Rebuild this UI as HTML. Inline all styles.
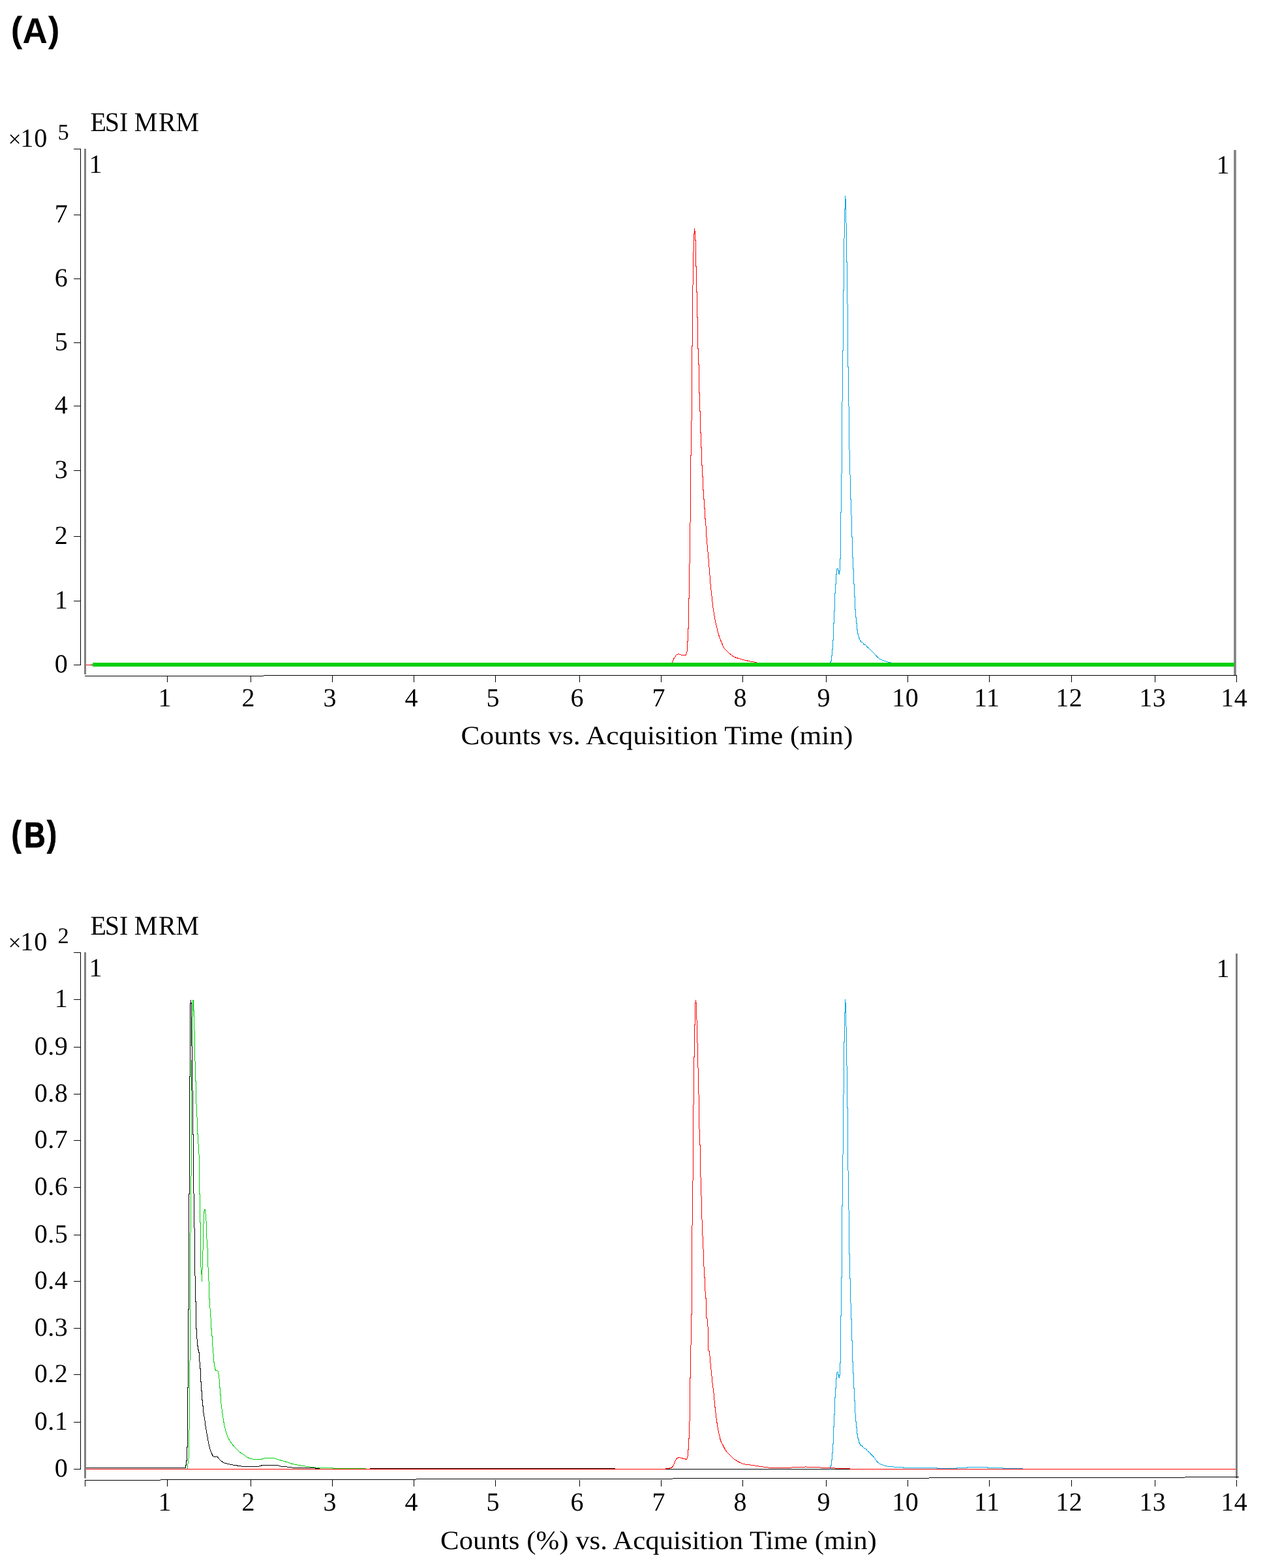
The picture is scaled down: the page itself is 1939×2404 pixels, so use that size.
<!DOCTYPE html>
<html lang="en">
<head>
<meta charset="utf-8">
<title>ESI MRM chromatograms</title>
<style>
html,body{margin:0;padding:0;background:#fff;}
body{width:1939px;height:2404px;overflow:hidden;}
svg{display:block;}
text{fill:#000;text-rendering:geometricPrecision;}
</style>
</head>
<body>
<svg xmlns="http://www.w3.org/2000/svg" width="1939" height="2404" viewBox="0 0 1939 2404">
<rect x="0" y="0" width="1939" height="2404" fill="#ffffff"/>
<g>
<rect x="129" y="228" width="3" height="806" fill="#808080"/>
<rect x="1891.2" y="230" width="3.6" height="805" fill="#808080"/>
<rect x="129" y="1460" width="3" height="806.5" fill="#808080"/>
<rect x="1894" y="1462" width="3" height="804.7" fill="#808080"/>
</g>
<g shape-rendering="crispEdges">
<rect x="123" y="228" width="1" height="792" fill="#000"/>
<rect x="113" y="228" width="11" height="1" fill="#000"/>
<rect x="113" y="1019" width="11" height="1" fill="#000"/>
<rect x="113" y="921" width="11" height="1" fill="#000"/>
<rect x="113" y="822" width="11" height="1" fill="#000"/>
<rect x="113" y="721" width="11" height="1" fill="#000"/>
<rect x="113" y="622" width="11" height="1" fill="#000"/>
<rect x="113" y="525" width="11" height="1" fill="#000"/>
<rect x="113" y="427" width="11" height="1" fill="#000"/>
<rect x="113" y="329" width="11" height="1" fill="#000"/>
<rect x="130" y="1036" width="274" height="1" fill="#000"/>
<rect x="404" y="1035" width="1492" height="1" fill="#000"/>
<rect x="256" y="1036" width="1" height="10" fill="#000"/>
<rect x="384" y="1036" width="1" height="10" fill="#000"/>
<rect x="509" y="1036" width="1" height="10" fill="#000"/>
<rect x="634" y="1036" width="1" height="10" fill="#000"/>
<rect x="759" y="1036" width="1" height="10" fill="#000"/>
<rect x="888" y="1036" width="1" height="10" fill="#000"/>
<rect x="1013" y="1036" width="1" height="10" fill="#000"/>
<rect x="1138" y="1036" width="1" height="10" fill="#000"/>
<rect x="1266" y="1036" width="1" height="10" fill="#000"/>
<rect x="1391" y="1036" width="1" height="10" fill="#000"/>
<rect x="1516" y="1036" width="1" height="10" fill="#000"/>
<rect x="1642" y="1036" width="1" height="10" fill="#000"/>
<rect x="1770" y="1036" width="1" height="10" fill="#000"/>
<rect x="1895" y="1036" width="1" height="10" fill="#000"/>
<rect x="132" y="1019" width="7" height="1" fill="#ff0000"/>
<rect x="139" y="1019" width="3" height="1" fill="#000"/>
<polyline points="1029,1019.5 1030.44,1015.85 1032.53,1010.27 1037.17,1003.53 1040.08,1002.49 1044.73,1004.46 1051.35,1004.46 1053.21,998.65 1053.67,998.65 1053.67,983.55 1054.6,983.55 1054.6,963.8 1055.53,963.8 1055.53,917.91 1056.92,917.91 1056.92,863.89 1057.74,863.89 1057.74,801.16 1058.43,800.47 1058.43,698.82 1059.48,698.24 1059.48,645.39 1060.41,644.8 1060.41,560 1060.41,530.85 1061.34,530.27 1061.34,437.33 1062.38,436.75 1062.38,386.22 1063.31,385.64 1063.31,358.92 1064.47,358.92 1064.47,349.97 1064.47,354.27 1065.5,354.27 1065.5,368.79 1066.5,368.79 1066.5,408.87 1067.5,408.87 1067.5,447.79 1068.51,447.79 1068.51,486.12 1069.51,486.12 1069.51,534.92 1070.5,534.92 1070.5,558.15 1071.5,558.15 1071.5,560 1071.5,602.4 1072.5,602.4 1072.5,630.86 1073.5,630.86 1073.5,663.39 1074.5,663.39 1074.5,686.63 1075.5,686.63 1075.5,713.93 1076.5,713.93 1076.5,730.77 1077.5,730.77 1077.5,751.68 1078.5,751.68 1078.5,765.62 1079.5,765.62 1079.5,779.56 1080.49,779.56 1080.49,795.83 1081.51,795.83 1082.71,820.91 1085.97,856.92 1089.45,899.91 1092.94,931.27 1096.42,952.18 1099.91,967.29 1102.81,977.16 1109.2,992.84 1117.33,1001.56 1125.46,1007.37 1137.08,1011.08 1148.7,1013.75 1158.92,1015.5 1162,1019.5" fill="none" stroke="#ff0000" stroke-width="1" stroke-linejoin="bevel"/>
<polyline points="1272.5,1019.5 1272.5,1015.7 1273.5,1015.7 1273.5,1013.6 1274.5,1013.6 1274.5,1005.9 1275.5,1005.9 1275.5,995 1276.5,995 1276.5,981 1277.5,981 1277.5,955.1 1278.5,955.1 1278.5,936.1 1279.5,936.1 1279.5,909.8 1280.5,909.8 1280.5,895.8 1281.5,895.8 1281.5,880.9 1282.5,880.9 1282.5,872.2 1283.5,871.3 1284.5,871.3 1284.5,874.7 1285.5,874.7 1285.5,879.3 1286.5,879.3 1286.5,880.9 1286.5,875.9 1287.5,875.9 1287.5,856.7 1288.5,856.7 1288.5,785 1289.5,785 1289.45,726.2 1290.5,725.62 1290.5,616.19 1291.54,615.49 1291.54,538.01 1292.59,537.43 1292.59,520 1292.36,529.77 1292.36,446.12 1293.29,445.54 1293.29,365.39 1294.33,364.8 1294.33,320.08 1295.49,320.08 1295.49,299.98 1295.49,304.98 1296.42,304.98 1296.65,341.57 1297.58,342.15 1297.58,401.4 1298.51,401.98 1298.51,465.64 1299.56,466.22 1299.56,529.77 1299.56,562.4 1300.49,562.98 1300.49,622.46 1301.42,623.16 1301.42,689.61 1302.35,690.31 1302.35,727.6 1303.39,728.29 1303.39,765.12 1304.44,766.05 1304.5,766.1 1304.5,790 1305.5,790 1305.5,823.2 1306.5,823.2 1306.5,854.8 1307.5,854.8 1307.5,872.8 1308.5,872.8 1308.5,895.8 1309.5,895.8 1309.5,914.8 1310.5,914.8 1310.5,934.6 1311.5,934.6 1311.5,946.7 1312.5,946.7 1312.5,955.7 1313.5,955.7 1313.5,965.8 1314.5,965.8 1314.5,971.8 1315.5,971.8 1315.5,975 1316.5,975 1316.5,978.7 1317.5,978.7 1317.5,981 1318.5,981 1318.5,982.7 1319.5,982.7 1319.5,984 1321.4,984.4 1324.7,988.3 1326.6,988.3 1329.8,992.7 1332,993.8 1339.4,1001.6 1346.4,1008.8 1351,1011.7 1355.7,1013.2 1360.3,1014.9 1365.9,1015.5 1368,1019.5" fill="none" stroke="#05a3df" stroke-width="1" stroke-linejoin="bevel"/>
<rect x="142" y="1016" width="1750" height="6" fill="#00cf0a"/>
<rect x="123" y="1460" width="1" height="793" fill="#000"/>
<rect x="113" y="1460" width="11" height="1" fill="#000"/>
<rect x="113" y="2252" width="11" height="1" fill="#000"/>
<rect x="113" y="2180" width="11" height="1" fill="#000"/>
<rect x="113" y="2107" width="11" height="1" fill="#000"/>
<rect x="113" y="2036" width="11" height="1" fill="#000"/>
<rect x="113" y="1964" width="11" height="1" fill="#000"/>
<rect x="113" y="1893" width="11" height="1" fill="#000"/>
<rect x="113" y="1820" width="11" height="1" fill="#000"/>
<rect x="113" y="1748" width="11" height="1" fill="#000"/>
<rect x="113" y="1677" width="11" height="1" fill="#000"/>
<rect x="113" y="1605" width="11" height="1" fill="#000"/>
<rect x="113" y="1532" width="11" height="1" fill="#000"/>
<rect x="130" y="2269" width="116" height="1" fill="#000"/>
<rect x="246" y="2268" width="392" height="1" fill="#000"/>
<rect x="638" y="2267" width="393" height="1" fill="#000"/>
<rect x="1031" y="2266" width="393" height="1" fill="#000"/>
<rect x="1424" y="2265" width="392" height="1" fill="#000"/>
<rect x="1816" y="2264" width="83" height="1" fill="#000"/>
<rect x="130" y="2269" width="1" height="10" fill="#000"/>
<rect x="256" y="2269" width="1" height="10" fill="#000"/>
<rect x="384" y="2269" width="1" height="10" fill="#000"/>
<rect x="509" y="2269" width="1" height="10" fill="#000"/>
<rect x="634" y="2269" width="1" height="10" fill="#000"/>
<rect x="759" y="2269" width="1" height="10" fill="#000"/>
<rect x="888" y="2269" width="1" height="10" fill="#000"/>
<rect x="1013" y="2269" width="1" height="10" fill="#000"/>
<rect x="1138" y="2269" width="1" height="10" fill="#000"/>
<rect x="1266" y="2269" width="1" height="10" fill="#000"/>
<rect x="1391" y="2269" width="1" height="10" fill="#000"/>
<rect x="1516" y="2269" width="1" height="10" fill="#000"/>
<rect x="1642" y="2269" width="1" height="10" fill="#000"/>
<rect x="1770" y="2269" width="1" height="10" fill="#000"/>
<rect x="1895" y="2269" width="1" height="10" fill="#000"/>
<polyline points="287.3,2252 287.3,2251 288.1,2243.3 288.56,2239.77 288.56,2236.28 289.61,2235.12 289.61,2192.72 290.53,2191.56 290.53,2086.42 291.58,2085.26 291.58,1990 291.58,1890.33 292.51,1889.41 292.51,1803.21 293.44,1802.28 293.44,1750 293.21,1759.77 293.21,1626.17 294.25,1625.59 294.25,1559.37 295.18,1558.79 295.18,1534.4 295.99,1533 296.58,1533.23 296.58,1549.5 297.5,1550.08 297.5,1578.54 298.43,1579.12 298.43,1626.75 299.48,1627.33 299.48,1656.96 300.53,1657.54 300.53,1692.39 301.57,1693.32 301.57,1712.72 302.73,1713.3 302.73,1738.28 303.78,1738.86 303.78,1753.96 304.71,1754.54 304.71,1759.77 304.71,1754.65 304.71,1769.75 305.64,1770.68 305.64,1830.16 306.68,1831.09 306.68,1874.3 307.61,1875.23 307.61,1942.84 308.54,1943.77 309.47,1964.92 309.47,1947.49 310.52,1946.33 310.52,1917.29 311.45,1916.36 311.45,1876.63 312.49,1875.7 312.49,1860.36 313.42,1855.13 314.47,1853.97 314.47,1860.36 315.51,1861.29 315.51,1871.4 316.67,1872.33 316.67,1899.86 317.6,1900.79 317.6,1912.64 318.65,1913.57 318.65,1942.84 319.69,1943.77 319.69,1963.75 320.74,1964.68 320.74,1991.05 321.78,1991.98 321.78,1999.77 321.5,1992 321.5,2006 322.5,2006 322.5,2020 323.5,2020 323.5,2037.9 324.5,2037.9 324.5,2048.1 325.5,2048.1 325.5,2065 326.5,2065 326.5,2075 327.5,2075 327.5,2088.9 328.5,2088.9 328.5,2095 329.5,2095 329.5,2099.5 330.5,2099.5 330.5,2101.6 333.5,2101.6 334.5,2102.5 334.5,2107 335.5,2107 335.5,2114 336.5,2114 336.5,2127.9 337.5,2127.9 337.5,2138.2 338.5,2138.2 338.5,2152 339.5,2152 339.5,2157 340.51,2163.82 341.54,2170.74 342.58,2177.65 343.62,2184.56 345.34,2191.47 347.42,2198.39 349.49,2203.92 352.26,2208.75 355.02,2212.9 357.79,2216.36 359.86,2219.12 363.32,2222.58 366.77,2225.69 370.23,2228.11 373.68,2230.18 377.14,2232.95 380.6,2235.02 384.05,2236.4 387.51,2237.23 390,2237.65 401.1,2237.15 407.15,2235.42 419.25,2235.42 427.02,2238.02 439.12,2241.47 447.76,2244.41 459.86,2246.66 470.22,2248.38 480.59,2249.77 485.78,2250.63 509.97,2250.63 510.83,2251.49 560.08,2251.49 560.1,2252.5" fill="none" stroke="#00cf0a" stroke-width="1" stroke-linejoin="bevel"/>
<polyline points="132,2250.5 284.2,2250.5 284.6,2246.8 285.5,2246.8 285.5,2240 286.24,2239.77 286.24,2219.44 287.28,2218.28 287.28,2128.24 288.33,2127.08 288.33,2008.36 289.26,2007.43 289.26,1990 289.26,1831.09 290.3,1830.16 290.3,1750 290.3,1651.15 291.35,1650.57 291.35,1538.46 292.28,1538.46 292.28,1533 292.28,1537.3 293.21,1537.3 293.21,1603.52 294.25,1604.1 294.25,1671.48 295.3,1672.06 295.3,1738.86 296.46,1739.44 296.46,1759.77 296.46,1829.58 297.5,1830.16 297.5,1882.43 298.43,1883.36 298.43,1955.62 299.48,1956.55 299.48,1995.12 300.5,1996 300.5,2037.9 301.5,2037.9 301.5,2053 302.5,2053 302.5,2063.8 303.5,2063.8 303.5,2069.3 304.5,2069.3 304.5,2073.2 305.5,2073.2 305.5,2088 306.5,2088 306.5,2098.9 307.5,2098.9 307.5,2118.8 308.5,2118.8 308.5,2132.1 309.5,2132.1 309.5,2146.9 310.5,2146.9 310.5,2155.1 311.5,2155.1 311.5,2160 312.16,2167.28 313.2,2172.81 314.24,2179.03 314.93,2185.94 315.97,2191.47 317,2198.39 318.39,2205.3 319.42,2210.83 320.46,2216.36 321.84,2221.2 323.22,2225.34 324.61,2228.8 325.99,2231.56 327.37,2233.29 331.86,2233.29 332.56,2232.26 334.28,2235.02 336.36,2237.44 339.12,2240.21 342.58,2242.28 346.04,2243.66 349.49,2244.35 352.95,2245.39 357.09,2246.08 363.32,2246.43 364.01,2247.46 369.54,2247.81 370.23,2248.5 390,2248.5 395.92,2248.38 402.83,2246.31 424.43,2246.31 430.48,2248.04 442.58,2249.25 452.94,2250.63 483.18,2250.63 484.05,2251.49 489.2,2251.5 489.2,2252.5 567,2252.5 567,2251.5 942.6,2251.5 942.6,2252.5 1302.2,2252.5" fill="none" stroke="#000" stroke-width="1" stroke-linejoin="bevel"/>
<polyline points="1272.5,2252.5 1272.5,2248.1 1273.5,2248.1 1273.5,2246 1274.5,2246 1274.5,2238.3 1275.5,2238.3 1275.5,2227.4 1276.5,2227.4 1276.5,2213.4 1277.5,2213.4 1277.5,2187.5 1278.5,2187.5 1278.5,2168.5 1279.5,2168.5 1279.5,2142.2 1280.5,2142.2 1280.5,2128.2 1281.5,2128.2 1281.5,2113.3 1282.5,2113.3 1282.5,2104.6 1283.5,2103.7 1284.5,2103.7 1284.5,2107.1 1285.5,2107.1 1285.5,2111.7 1286.5,2111.7 1286.5,2113.3 1286.5,2108.3 1287.5,2108.3 1287.5,2089.1 1288.5,2089.1 1288.5,2017.4 1289.5,2017.4 1289.45,1958.6 1290.5,1958.02 1290.5,1848.59 1291.54,1847.89 1291.54,1770.41 1292.59,1769.83 1292.59,1752.4 1292.36,1762.17 1292.36,1678.52 1293.29,1677.94 1293.29,1597.79 1294.33,1597.2 1294.33,1552.48 1295.49,1552.48 1295.49,1532.38 1295.49,1537.38 1296.42,1537.38 1296.65,1573.97 1297.58,1574.55 1297.58,1633.8 1298.51,1634.38 1298.51,1698.04 1299.56,1698.62 1299.56,1762.17 1299.56,1794.8 1300.49,1795.38 1300.49,1854.86 1301.42,1855.56 1301.42,1922.01 1302.35,1922.71 1302.35,1960 1303.39,1960.69 1303.39,1997.52 1304.44,1998.45 1304.5,1998.5 1304.5,2022.4 1305.5,2022.4 1305.5,2055.6 1306.5,2055.6 1306.5,2087.2 1307.5,2087.2 1307.5,2105.2 1308.5,2105.2 1308.5,2128.2 1309.5,2128.2 1309.5,2147.2 1310.5,2147.2 1310.5,2167 1311.5,2167 1311.5,2179.1 1312.5,2179.1 1312.5,2188.1 1313.5,2188.1 1313.5,2198.2 1314.5,2198.2 1314.5,2204.2 1315.5,2204.2 1315.5,2207.4 1316.5,2207.4 1316.5,2211.1 1317.5,2211.1 1317.5,2213.4 1318.5,2213.4 1318.5,2215.1 1319.5,2215.1 1319.5,2216.4 1321.4,2216.8 1324.7,2220.7 1326.6,2220.7 1329.8,2225.1 1332,2226.2 1339.4,2234 1344.63,2241.43 1348.7,2244.34 1354.51,2246.66 1361.48,2248.4 1369.61,2248.63 1370.19,2249.33 1383.55,2249.33 1384.71,2250.14 1383.8,2250.41 1436.51,2250.41 1436.51,2251.45 1466.4,2251.45 1466.4,2250.41 1482.82,2250.41 1482.82,2249.38 1513.4,2249.38 1513.4,2250.41 1537.59,2250.41 1537.59,2251.45 1568.01,2251.45" fill="none" stroke="#05a3df" stroke-width="1" stroke-linejoin="bevel"/>
<polyline points="132,2252.5 1020,2252.5 1020,2251.5 1026.22,2251.45 1026.57,2250.62 1028.99,2250.41 1030.37,2249.24 1032.1,2247.16 1033.48,2243.36 1035.21,2239.21 1037.28,2236.1 1038.32,2235.27 1041.77,2234.51 1043.5,2235.27 1046.27,2235.62 1046.61,2236.45 1050.41,2236.66 1050.76,2237.35 1052.49,2237.35 1053.87,2232.99 1054.5,2233 1054.5,2222.6 1055.5,2222.6 1055.41,2206.08 1056.58,2204.92 1056.58,2179.36 1057.5,2178.2 1057.5,2113.14 1058.43,2111.98 1058.43,2062.61 1059.48,2061.45 1059.48,2016.14 1060.41,2014.98 1060.41,1990 1060.41,1879.3 1061.57,1878.37 1061.57,1810.41 1062.73,1809.48 1062.73,1750 1062.38,1759.77 1062.38,1694.48 1063.43,1693.55 1063.43,1621.29 1064.36,1620.36 1064.36,1572.15 1065.4,1571.57 1065.4,1537.3 1066.45,1537.3 1066.45,1533 1066.45,1537.3 1067.38,1537.3 1067.38,1563.44 1068.31,1564.37 1068.31,1598.52 1069.35,1599.45 1069.35,1636.39 1070.4,1637.32 1070.4,1677.29 1071.33,1678.22 1071.33,1730.14 1072.37,1731.07 1072.37,1754.89 1073.42,1755.82 1073.42,1759.77 1073.42,1755.81 1073.42,1804.37 1074.47,1805.3 1074.47,1833.41 1075.51,1834.34 1075.51,1869.42 1076.56,1870.35 1076.56,1894.63 1077.49,1895.56 1077.49,1914.38 1078.53,1915.31 1078.53,1941.68 1079.58,1942.61 1079.58,1957.95 1080.51,1958.88 1080.51,1979.44 1081.55,1980.37 1081.55,1989.89 1082.48,1990.82 1082.48,1999.77 1082.48,2006.26 1082.48,2020.2 1083.88,2020.2 1085.97,2045.76 1085.97,2071.32 1087.36,2071.32 1089.45,2094.55 1091.78,2117.79 1093.27,2130 1094.31,2138.99 1095.34,2150.74 1096.38,2161.11 1097.42,2168.71 1098.45,2177 1099.49,2185.3 1100.53,2190.83 1101.56,2195.67 1102.6,2200.51 1103.64,2205.34 1105.02,2209.49 1106.4,2212.95 1108.48,2216.4 1111.24,2221.93 1114.7,2226.77 1118.15,2230.23 1121.61,2233.68 1124.38,2236.45 1127.83,2238.52 1130.6,2240.6 1134.05,2242.32 1137.51,2243.71 1140,2244.74 1155.76,2246.77 1168.43,2248.85 1177.65,2250 1213.36,2250 1214.52,2249.08 1234.1,2249.08 1235.25,2248.16 1236.41,2249.08 1257.14,2249.08 1258.29,2250 1277.88,2250 1280.18,2251.15 1302.2,2251.3 1302.2,2252.5 1894,2252.5" fill="none" stroke="#ff0000" stroke-width="1" stroke-linejoin="bevel"/>
</g>
<g>
<text transform="translate(16.7,63.7) scale(0.965,1)" font-family="'Liberation Sans', sans-serif" font-weight="bold" font-size="55">(<tspan dy="2">A</tspan><tspan dx="1" dy="-2">)</tspan></text>
<text transform="translate(17.5,1297.4) scale(0.823,1)" font-family="'Liberation Sans', sans-serif" font-weight="bold" font-size="55" stroke="#000" stroke-width="1" stroke-linejoin="round">(<tspan dx="5.4" dy="2">B</tspan><tspan dx="2.9" dy="-2">)</tspan></text>
<text transform="translate(138.4,201) scale(0.96,1)" font-family="'Liberation Serif', serif" font-size="41.7" dx="0 -2.3 0 0 -0.5 1.6 0">ESI MRM</text>
<text transform="translate(12,225.2)" font-family="'Liberation Serif', serif" font-size="40.1" letter-spacing="0.9"><tspan x="0.5" font-size="35.5" letter-spacing="0">×</tspan><tspan x="19.3">10</tspan></text>
<text transform="translate(88.6,214.3) scale(1,1)" text-anchor="start" font-family="'Liberation Serif', serif" font-size="34.4">5</text>
<text transform="translate(136.5,265.3) scale(1,1)" text-anchor="start" font-family="'Liberation Serif', serif" font-size="40.1">1</text>
<text transform="translate(1884.5,266) scale(1,1)" text-anchor="end" font-family="'Liberation Serif', serif" font-size="40.1">1</text>
<text transform="translate(138.4,1433) scale(0.96,1)" font-family="'Liberation Serif', serif" font-size="41.7" dx="0 -2.3 0 0 -0.5 1.6 0">ESI MRM</text>
<text transform="translate(12,1457.2)" font-family="'Liberation Serif', serif" font-size="40.1" letter-spacing="0.9"><tspan x="0.5" font-size="35.5" letter-spacing="0">×</tspan><tspan x="19.3">10</tspan></text>
<text transform="translate(88.6,1446.3) scale(1,1)" text-anchor="start" font-family="'Liberation Serif', serif" font-size="34.4">2</text>
<text transform="translate(136.5,1497.3) scale(1,1)" text-anchor="start" font-family="'Liberation Serif', serif" font-size="40.1">1</text>
<text transform="translate(1884.5,1498) scale(1,1)" text-anchor="end" font-family="'Liberation Serif', serif" font-size="40.1">1</text>
<text transform="translate(103.7,1030.8) scale(1,1)" text-anchor="end" font-family="'Liberation Serif', serif" font-size="40.1">0</text>
<text transform="translate(103.7,932.8) scale(1,1)" text-anchor="end" font-family="'Liberation Serif', serif" font-size="40.1">1</text>
<text transform="translate(103.7,833.8) scale(1,1)" text-anchor="end" font-family="'Liberation Serif', serif" font-size="40.1">2</text>
<text transform="translate(103.7,732.8) scale(1,1)" text-anchor="end" font-family="'Liberation Serif', serif" font-size="40.1">3</text>
<text transform="translate(103.7,633.8) scale(1,1)" text-anchor="end" font-family="'Liberation Serif', serif" font-size="40.1">4</text>
<text transform="translate(103.7,536.8) scale(1,1)" text-anchor="end" font-family="'Liberation Serif', serif" font-size="40.1">5</text>
<text transform="translate(103.7,438.8) scale(1,1)" text-anchor="end" font-family="'Liberation Serif', serif" font-size="40.1">6</text>
<text transform="translate(103.7,340.8) scale(1,1)" text-anchor="end" font-family="'Liberation Serif', serif" font-size="40.1">7</text>
<text transform="translate(103.7,2263.8) scale(1,1)" text-anchor="end" font-family="'Liberation Serif', serif" font-size="40.1">0</text>
<text transform="translate(104.1,2191.8) scale(1,1)" text-anchor="end" font-family="'Liberation Serif', serif" font-size="40.1" letter-spacing="0.4">0.1</text>
<text transform="translate(104.1,2118.8) scale(1,1)" text-anchor="end" font-family="'Liberation Serif', serif" font-size="40.1" letter-spacing="0.4">0.2</text>
<text transform="translate(104.1,2047.8) scale(1,1)" text-anchor="end" font-family="'Liberation Serif', serif" font-size="40.1" letter-spacing="0.4">0.3</text>
<text transform="translate(104.1,1975.8) scale(1,1)" text-anchor="end" font-family="'Liberation Serif', serif" font-size="40.1" letter-spacing="0.4">0.4</text>
<text transform="translate(104.1,1904.8) scale(1,1)" text-anchor="end" font-family="'Liberation Serif', serif" font-size="40.1" letter-spacing="0.4">0.5</text>
<text transform="translate(104.1,1831.8) scale(1,1)" text-anchor="end" font-family="'Liberation Serif', serif" font-size="40.1" letter-spacing="0.4">0.6</text>
<text transform="translate(104.1,1759.8) scale(1,1)" text-anchor="end" font-family="'Liberation Serif', serif" font-size="40.1" letter-spacing="0.4">0.7</text>
<text transform="translate(104.1,1688.8) scale(1,1)" text-anchor="end" font-family="'Liberation Serif', serif" font-size="40.1" letter-spacing="0.4">0.8</text>
<text transform="translate(104.1,1616.8) scale(1,1)" text-anchor="end" font-family="'Liberation Serif', serif" font-size="40.1" letter-spacing="0.4">0.9</text>
<text transform="translate(103.7,1543.8) scale(1,1)" text-anchor="end" font-family="'Liberation Serif', serif" font-size="40.1">1</text>
<text transform="translate(252.5,1083) scale(1,1)" text-anchor="middle" font-family="'Liberation Serif', serif" font-size="40.1">1</text>
<text transform="translate(252.5,2316) scale(1,1)" text-anchor="middle" font-family="'Liberation Serif', serif" font-size="40.1">1</text>
<text transform="translate(380.5,1083) scale(1,1)" text-anchor="middle" font-family="'Liberation Serif', serif" font-size="40.1">2</text>
<text transform="translate(380.5,2316) scale(1,1)" text-anchor="middle" font-family="'Liberation Serif', serif" font-size="40.1">2</text>
<text transform="translate(505.5,1083) scale(1,1)" text-anchor="middle" font-family="'Liberation Serif', serif" font-size="40.1">3</text>
<text transform="translate(505.5,2316) scale(1,1)" text-anchor="middle" font-family="'Liberation Serif', serif" font-size="40.1">3</text>
<text transform="translate(630.5,1083) scale(1,1)" text-anchor="middle" font-family="'Liberation Serif', serif" font-size="40.1">4</text>
<text transform="translate(630.5,2316) scale(1,1)" text-anchor="middle" font-family="'Liberation Serif', serif" font-size="40.1">4</text>
<text transform="translate(755.5,1083) scale(1,1)" text-anchor="middle" font-family="'Liberation Serif', serif" font-size="40.1">5</text>
<text transform="translate(755.5,2316) scale(1,1)" text-anchor="middle" font-family="'Liberation Serif', serif" font-size="40.1">5</text>
<text transform="translate(884.5,1083) scale(1,1)" text-anchor="middle" font-family="'Liberation Serif', serif" font-size="40.1">6</text>
<text transform="translate(884.5,2316) scale(1,1)" text-anchor="middle" font-family="'Liberation Serif', serif" font-size="40.1">6</text>
<text transform="translate(1009.5,1083) scale(1,1)" text-anchor="middle" font-family="'Liberation Serif', serif" font-size="40.1">7</text>
<text transform="translate(1009.5,2316) scale(1,1)" text-anchor="middle" font-family="'Liberation Serif', serif" font-size="40.1">7</text>
<text transform="translate(1134.5,1083) scale(1,1)" text-anchor="middle" font-family="'Liberation Serif', serif" font-size="40.1">8</text>
<text transform="translate(1134.5,2316) scale(1,1)" text-anchor="middle" font-family="'Liberation Serif', serif" font-size="40.1">8</text>
<text transform="translate(1262.5,1083) scale(1,1)" text-anchor="middle" font-family="'Liberation Serif', serif" font-size="40.1">9</text>
<text transform="translate(1262.5,2316) scale(1,1)" text-anchor="middle" font-family="'Liberation Serif', serif" font-size="40.1">9</text>
<text transform="translate(1387.7,1083) scale(1,1)" text-anchor="middle" font-family="'Liberation Serif', serif" font-size="40.1" letter-spacing="0.4">10</text>
<text transform="translate(1387.7,2316) scale(1,1)" text-anchor="middle" font-family="'Liberation Serif', serif" font-size="40.1" letter-spacing="0.4">10</text>
<text transform="translate(1512.7,1083) scale(1,1)" text-anchor="middle" font-family="'Liberation Serif', serif" font-size="40.1" letter-spacing="0.4">11</text>
<text transform="translate(1512.7,2316) scale(1,1)" text-anchor="middle" font-family="'Liberation Serif', serif" font-size="40.1" letter-spacing="0.4">11</text>
<text transform="translate(1638.7,1083) scale(1,1)" text-anchor="middle" font-family="'Liberation Serif', serif" font-size="40.1" letter-spacing="0.4">12</text>
<text transform="translate(1638.7,2316) scale(1,1)" text-anchor="middle" font-family="'Liberation Serif', serif" font-size="40.1" letter-spacing="0.4">12</text>
<text transform="translate(1766.7,1083) scale(1,1)" text-anchor="middle" font-family="'Liberation Serif', serif" font-size="40.1" letter-spacing="0.4">13</text>
<text transform="translate(1766.7,2316) scale(1,1)" text-anchor="middle" font-family="'Liberation Serif', serif" font-size="40.1" letter-spacing="0.4">13</text>
<text transform="translate(1891.7,1083) scale(1,1)" text-anchor="middle" font-family="'Liberation Serif', serif" font-size="40.1" letter-spacing="0.4">14</text>
<text transform="translate(1891.7,2316) scale(1,1)" text-anchor="middle" font-family="'Liberation Serif', serif" font-size="40.1" letter-spacing="0.4">14</text>
<text transform="translate(1007,1141.3) scale(1.07,1)" text-anchor="middle" font-family="'Liberation Serif', serif" font-size="40.5">Counts vs. Acquisition Time (min)</text>
<text transform="translate(1009.5,2374.7) scale(1.0577,1)" text-anchor="middle" font-family="'Liberation Serif', serif" font-size="40.5">Counts (%) vs. Acquisition Time (min)</text>
</g>
</svg>
</body>
</html>
